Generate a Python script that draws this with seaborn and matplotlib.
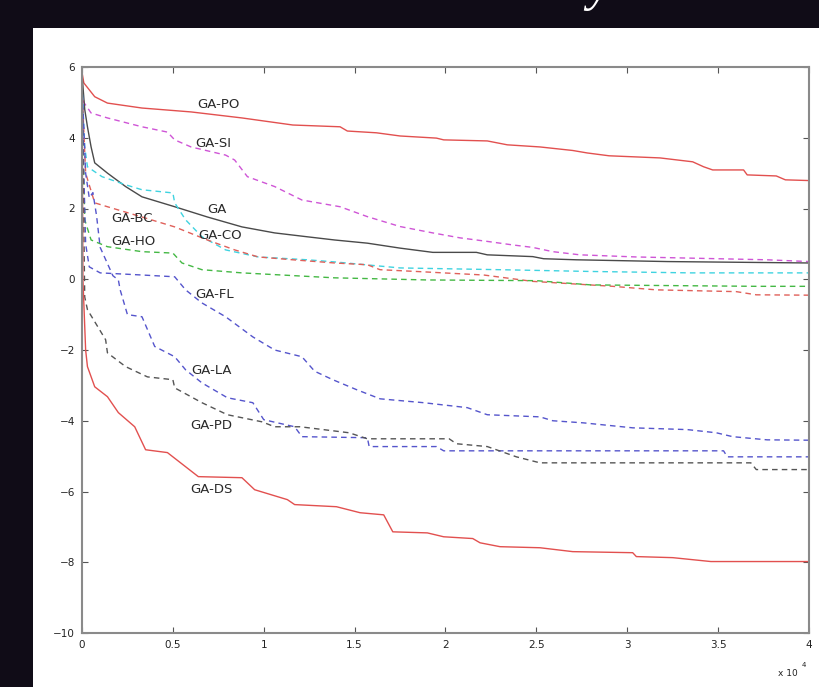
import numpy as np
import pandas as pd
import matplotlib
matplotlib.use("Agg")
import matplotlib.pyplot as plt
import seaborn as sns

# x in units of 10^4 iterations
po_x = [0, 0.01, 0.07, 0.14, 0.33, 0.6, 0.88, 1.16, 1.42, 1.46, 1.62, 1.75, 1.95, 1.99, 2.23, 2.34, 2.52, 2.70, 2.78, 2.9, 3.18, 3.36, 3.42, 3.47, 3.64, 3.66, 3.82, 3.87, 4.0]
po_y = [5.85, 5.55, 5.16, 4.98, 4.84, 4.73, 4.56, 4.36, 4.31, 4.19, 4.14, 4.05, 3.99, 3.94, 3.91, 3.80, 3.74, 3.64, 3.57, 3.49, 3.43, 3.32, 3.18, 3.09, 3.09, 2.95, 2.92, 2.81, 2.79]

si_x = [0, 0.01, 0.05, 0.14, 0.33, 0.47, 0.51, 0.6, 0.79, 0.84, 0.91, 1.06, 1.21, 1.42, 1.57, 1.75, 1.93, 2.08, 2.23, 2.37, 2.48, 2.59, 2.74, 3.05, 3.77, 4.0]
si_y = [5.6, 5.0, 4.7, 4.56, 4.31, 4.16, 3.94, 3.74, 3.51, 3.37, 2.9, 2.62, 2.24, 2.05, 1.77, 1.49, 1.31, 1.17, 1.07, 0.97, 0.9, 0.78, 0.69, 0.63, 0.55, 0.5]

ga_x = [0, 0.015, 0.03, 0.05, 0.07, 0.14, 0.24, 0.33, 0.51, 0.69, 0.88, 1.06, 1.24, 1.39, 1.57, 1.75, 1.93, 2.17, 2.23, 2.48, 2.54, 2.72, 3.22, 4.0]
ga_y = [5.8, 4.8, 4.31, 3.74, 3.29, 3.0, 2.62, 2.33, 2.05, 1.76, 1.48, 1.31, 1.2, 1.11, 1.02, 0.88, 0.76, 0.76, 0.69, 0.64, 0.58, 0.55, 0.5, 0.46]

co_x = [0, 0.015, 0.03, 0.11, 0.24, 0.33, 0.5, 0.51, 0.57, 0.66, 0.79, 0.97, 1.24, 1.39, 1.75, 2.3, 2.8, 3.35, 4.0]
co_y = [5.5, 3.74, 3.18, 2.9, 2.67, 2.53, 2.44, 2.16, 1.68, 1.2, 0.83, 0.63, 0.55, 0.49, 0.32, 0.27, 0.22, 0.18, 0.18]

bc_x = [0, 0.02, 0.07, 0.14, 0.33, 0.51, 0.69, 0.84, 0.97, 1.16, 1.39, 1.57, 1.64, 1.84, 2.21, 2.48, 2.92, 3.16, 3.6, 3.71, 4.0]
bc_y = [5.4, 3.0, 2.16, 2.05, 1.76, 1.48, 1.11, 0.83, 0.63, 0.55, 0.46, 0.41, 0.27, 0.22, 0.12, -0.06, -0.2, -0.3, -0.35, -0.44, -0.45]

ho_x = [0, 0.015, 0.05, 0.14, 0.33, 0.5, 0.55, 0.66, 0.88, 1.39, 1.9, 2.5, 2.8, 3.71, 4.0]
ho_y = [5.3, 1.68, 1.11, 0.92, 0.78, 0.74, 0.46, 0.27, 0.18, 0.04, -0.02, -0.04, -0.16, -0.2, -0.2]

fl_x = [0, 0.01, 0.02, 0.04, 0.1, 0.33, 0.51, 0.57, 0.66, 0.79, 0.94, 1.06, 1.21, 1.28, 1.38, 1.51, 1.64, 1.88, 2.12, 2.23, 2.52, 2.59, 2.76, 3.03, 3.33, 3.49, 3.58, 3.77, 4.0]
fl_y = [5.6, 3.0, 1.0, 0.35, 0.18, 0.12, 0.07, -0.3, -0.67, -1.06, -1.63, -2.0, -2.19, -2.6, -2.84, -3.12, -3.38, -3.49, -3.63, -3.83, -3.89, -4.0, -4.06, -4.2, -4.25, -4.34, -4.45, -4.54, -4.55]

la_x = [0, 0.02, 0.04, 0.06, 0.08, 0.1, 0.17, 0.2, 0.21, 0.25, 0.33, 0.4, 0.51, 0.57, 0.66, 0.8, 0.94, 1.0, 1.17, 1.21, 1.57, 1.58, 1.95, 1.99, 3.53, 3.55, 4.0]
la_y = [5.5, 3.0, 2.3, 2.45, 1.8, 0.9, 0.1, -0.02, -0.3, -1.0, -1.06, -1.9, -2.19, -2.56, -2.93, -3.35, -3.49, -3.97, -4.17, -4.45, -4.48, -4.73, -4.73, -4.85, -4.85, -5.02, -5.02]

pd_x = [0, 0.015, 0.03, 0.13, 0.14, 0.24, 0.36, 0.5, 0.51, 0.66, 0.8, 0.99, 1.06, 1.2, 1.47, 1.57, 2.02, 2.06, 2.23, 2.39, 2.52, 3.68, 3.71, 4.0]
pd_y = [5.6, -0.5, -0.86, -1.71, -2.08, -2.47, -2.76, -2.84, -3.07, -3.49, -3.83, -4.03, -4.17, -4.17, -4.34, -4.51, -4.51, -4.65, -4.73, -5.02, -5.19, -5.19, -5.38, -5.38]

ds_x = [0, 0.005, 0.02, 0.03, 0.07, 0.14, 0.2, 0.29, 0.35, 0.47, 0.57, 0.64, 0.88, 0.95, 1.13, 1.17, 1.4, 1.53, 1.66, 1.71, 1.9, 1.99, 2.15, 2.19, 2.3, 2.52, 2.7, 3.03, 3.05, 3.25, 3.46, 4.0]
ds_y = [5.8, 0.0, -2.0, -2.47, -3.04, -3.32, -3.77, -4.17, -4.82, -4.9, -5.3, -5.58, -5.61, -5.95, -6.23, -6.37, -6.43, -6.6, -6.66, -7.14, -7.17, -7.28, -7.33, -7.45, -7.56, -7.59, -7.7, -7.73, -7.84, -7.87, -7.98, -7.98]

series_names = ["GA-PO", "GA-SI", "GA", "GA-CO", "GA-BC", "GA-HO", "GA-FL", "GA-LA", "GA-PD", "GA-DS"]
series_x = [po_x, si_x, ga_x, co_x, bc_x, ho_x, fl_x, la_x, pd_x, ds_x]
series_y = [po_y, si_y, ga_y, co_y, bc_y, ho_y, fl_y, la_y, pd_y, ds_y]
series_colors = ["#e2504f", "#cf55d6", "#4a4a4a", "#3fd3e0", "#e0605a", "#44b844", "#5555cc", "#5555cc", "#555555", "#e2504f"]
series_dashed = [False, True, False, True, True, True, True, True, True, False]

label_text = ["GA-PO", "GA-SI", "GA", "GA-BC", "GA-CO", "GA-HO", "GA-FL", "GA-LA", "GA-PD", "GA-DS"]
label_x = [0.75, 0.72, 0.74, 0.275, 0.76, 0.28, 0.73, 0.71, 0.71, 0.71]
label_y = [4.95, 3.85, 1.96, 1.73, 1.23, 1.08, -0.44, -2.59, -4.14, -5.95]

x_ticks = [0, 0.5, 1, 1.5, 2, 2.5, 3, 3.5, 4]
x_tick_labels = ["0", "0.5", "1", "1.5", "2", "2.5", "3", "3.5", "4"]
y_ticks = [-10, -8, -6, -4, -2, 0, 2, 4, 6]

sns.set_theme(style="white")
plt.rcParams["font.family"] = ["DejaVu Sans"]

fig = plt.figure(figsize=(8.2, 6.87), dpi=100, facecolor="#100c17")

# white slide panel behind the plot
bg = fig.add_axes([33 / 820, 0, 1 - 33 / 820, (687 - 28) / 687], zorder=-5)
bg.set_facecolor("white")
bg.set_xticks([])
bg.set_yticks([])
for sp in bg.spines.values():
    sp.set_visible(False)

# descender of a slide title letter that is cut off at the top edge
fig.text(598 / 820, 1.0, "y", color="white", fontsize=36, family="Liberation Serif",
         style="italic", va="baseline", ha="center")

ax = fig.add_axes([82 / 820, 1 - 633 / 687, (809 - 82) / 820, (633 - 67) / 687], zorder=1)
ax.set_facecolor("white")

for name, xs, ys, col, dsh in zip(series_names, series_x, series_y, series_colors, series_dashed):
    df = pd.DataFrame({"x": xs, "y": ys})
    line_kw = dict(data=df, x="x", y="y", ax=ax, color=col, lw=1.0,
                   estimator=None, sort=False, legend=False)
    if dsh:
        line_kw["linestyle"] = (0, (4, 3))
    sns.lineplot(**line_kw)

for t, lx, ly in zip(label_text, label_x, label_y):
    ax.text(lx, ly, t, fontsize=9.5, color="#2a2a2a", ha="center", va="center")

ax.set_xlim(0, 4)
ax.set_ylim(-10, 6)
ax.set_xticks(x_ticks)
ax.set_xticklabels(x_tick_labels)
ax.set_yticks(y_ticks)
ax.set_xlabel("")
ax.set_ylabel("")
ax.tick_params(direction="in", length=4, width=0.8, colors="#555555",
               labelcolor="#222222", labelsize=7.5, top=True, right=True,
               bottom=True, left=True, pad=5)
for sp in ax.spines.values():
    sp.set_color("#8a8a8a")
    sp.set_linewidth(1.5)
    sp.set_visible(True)

fig.text(788 / 820, 1 - 674 / 687, "x 10", fontsize=6.5, color="#222222", ha="center", va="center")
fig.text(804 / 820, 1 - 665 / 687, "4", fontsize=5, color="#222222", ha="center", va="center")

fig.savefig("out.png", dpi=100, facecolor=fig.get_facecolor())
